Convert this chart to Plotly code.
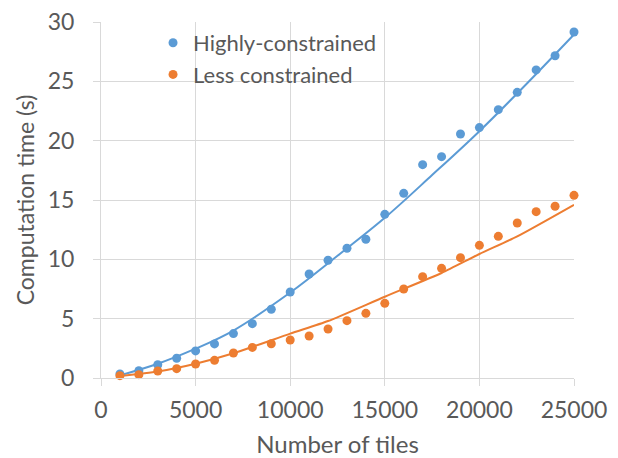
import plotly.graph_objects as go

tiles = [1000, 2000, 3000, 4000, 5000, 6000, 7000, 8000, 9000, 10000, 11000, 12000, 13000,
         14000, 15000, 16000, 17000, 18000, 19000, 20000, 21000, 22000, 23000, 24000, 25000]
highly = [0.34, 0.62, 1.12, 1.66, 2.28, 2.87, 3.74, 4.58, 5.79, 7.25, 8.76, 9.92, 10.93,
          11.69, 13.79, 15.56, 17.98, 18.65, 20.56, 21.10, 22.61, 24.07, 25.96, 27.16, 29.16]
less = [0.20, 0.28, 0.59, 0.79, 1.18, 1.49, 2.11, 2.58, 2.89, 3.20, 3.54, 4.13, 4.83,
        5.45, 6.29, 7.50, 8.54, 9.24, 10.14, 11.18, 11.94, 13.06, 14.02, 14.47, 15.39]

trend_x_h = [1000, 3000, 5000, 7000, 10000, 12500, 15000, 17500, 20000, 22500, 25000]
trend_h = [0.22, 1.2, 2.47, 4.0, 7.2, 10.3, 13.5, 17.1, 20.8, 24.8, 28.95]
trend_x_l = [1000, 3000, 5000, 7000, 10000, 12000, 15000, 18000, 20000, 22000, 25000]
trend_l = [0.17, 0.55, 1.2, 2.08, 3.74, 4.8, 6.85, 8.85, 10.45, 11.94, 14.6]

x_ticks = [0, 5000, 10000, 15000, 20000, 25000]
y_ticks = [0, 5, 10, 15, 20, 25, 30]

BLUE = "#5B9BD5"
ORANGE = "#ED7D31"
GRID = "#D9D9D9"
TXT = "#595959"
FONT = "Lato"

fig = go.Figure()
fig.add_trace(go.Scatter(x=trend_x_h, y=trend_h, mode="lines", line=dict(color=BLUE, width=2, shape="spline"),
                         showlegend=False, hoverinfo="skip"))
fig.add_trace(go.Scatter(x=trend_x_l, y=trend_l, mode="lines", line=dict(color=ORANGE, width=2, shape="spline", smoothing=0.6),
                         showlegend=False, hoverinfo="skip"))
fig.add_trace(go.Scatter(x=tiles, y=highly, mode="markers", name="Highly-constrained",
                         marker=dict(color=BLUE, size=9), cliponaxis=False))
fig.add_trace(go.Scatter(x=tiles, y=less, mode="markers", name="Less constrained",
                         marker=dict(color=ORANGE, size=9), cliponaxis=False))

fig.update_layout(
    width=610, height=450,
    margin=dict(l=93, r=44, t=14, b=80),
    paper_bgcolor="white", plot_bgcolor="white",
    font=dict(family=FONT, size=22, color=TXT),
    legend=dict(x=0.11, y=1.0, xanchor="left", yanchor="top", bgcolor="rgba(0,0,0,0)",
                font=dict(family=FONT, size=22, color=TXT), itemwidth=30, tracegroupgap=0),
    xaxis=dict(range=[0, 25000], tickvals=x_ticks, ticktext=[str(v) for v in x_ticks],
               showgrid=True, gridcolor=GRID, gridwidth=1, zeroline=False,
               showline=True, linecolor=GRID, linewidth=1, automargin=False,
               ticks="outside", ticklen=7, tickcolor=GRID, ticklabelstandoff=4,
               ticklabeloverflow="allow",
               title=dict(text="Number of tiles", standoff=16, font=dict(size=24)),
               tickfont=dict(size=23)),
    yaxis=dict(range=[0, 30], tickvals=y_ticks, ticktext=[str(v) for v in y_ticks],
               automargin=False, ticklabeloverflow="allow",
               showgrid=True, gridcolor=GRID, gridwidth=1, zeroline=False,
               showline=True, linecolor=GRID, linewidth=1,
               ticks="outside", ticklen=7, tickcolor=GRID, ticklabelstandoff=14,
               title=dict(text="Computation time (s)", standoff=6, font=dict(size=23)),
               tickfont=dict(size=23)),
)
fig.write_html("out.html")
